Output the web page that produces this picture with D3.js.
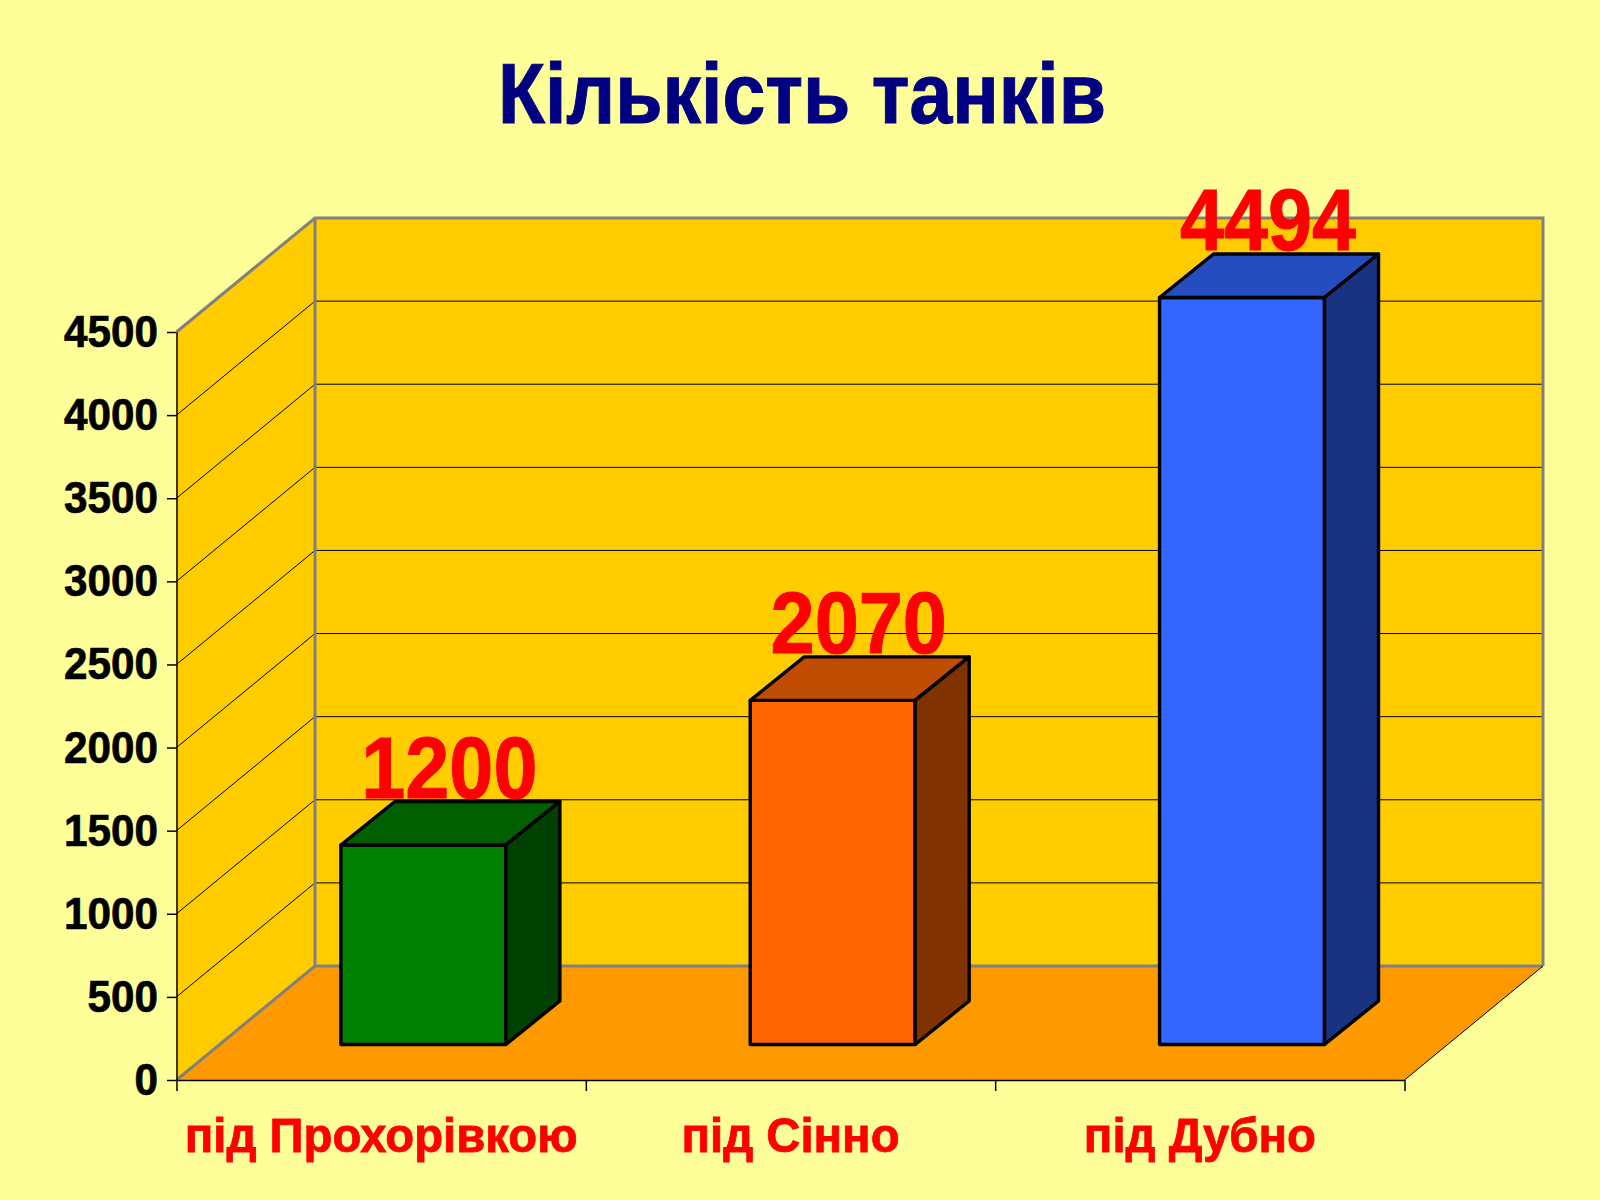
<!DOCTYPE html>
<html>
<head>
<meta charset="utf-8">
<title>Кількість танків</title>
<script src="https://cdn.jsdelivr.net/npm/d3@7/dist/d3.min.js"></script>
<style>
  html, body { margin: 0; padding: 0; background: #FFFF99; }
  svg { display: block; }
  text { font-family: "Liberation Sans", Arial, sans-serif; font-weight: bold; }
</style>
</head>
<body>
<div id="chart"></div>
<script>
const titleText = 'Кількість танків';
const categories = ['під Прохорівкою', 'під Сінно', 'під Дубно'];
const tankCounts = [1200, 2070, 4494];
const yTickValues = [0, 500, 1000, 1500, 2000, 2500, 3000, 3500, 4000, 4500];

const barFills = {
  front: ['#008000', '#FF6600', '#3366FF'],
  top: ['#006000', '#BF4C00', '#264DBF'],
  side: ['#004000', '#803300', '#1A3380']
};

const width = 1600;
const height = 1200;
const plotLeft = 176.5, plotRight = 1404.5, plotBottom = 1080, plotTop = 332;
// oblique offset of the back wall, and of the bars on the floor
const wallDx = 138.5, wallDy = 114;
const barInsetX = 42.2, barInsetY = 35.5;
const barDepthX = 54, barDepthY = 43.5;

const svg = d3.select('#chart').append('svg')
  .attr('width', width)
  .attr('height', height);

svg.append('rect').attr('width', width).attr('height', height).attr('fill', '#FFFF99');

const y = d3.scaleLinear().domain([0, 4500]).range([plotBottom, plotTop]);
const x = d3.scaleBand().domain(categories).range([plotLeft, plotRight])
  .paddingInner(0.597).paddingOuter(0.2985);
const xEdges = d3.scaleLinear().domain([0, categories.length]).range([plotLeft, plotRight]);

const poly = pts => pts.map(p => p.join(',')).join(' ');

// walls and floor
svg.append('polygon')
  .attr('points', poly([[plotLeft, y(0)], [plotLeft + wallDx, y(0) - wallDy], [plotLeft + wallDx, y(4500) - wallDy], [plotLeft, y(4500)]]))
  .attr('fill', '#FFCC00');
svg.append('rect')
  .attr('x', plotLeft + wallDx).attr('y', y(4500) - wallDy)
  .attr('width', plotRight - plotLeft).attr('height', y(0) - y(4500))
  .attr('fill', '#FFCC00');
svg.append('polygon')
  .attr('points', poly([[plotLeft, y(0)], [plotRight, y(0)], [plotRight + wallDx, y(0) - wallDy], [plotLeft + wallDx, y(0) - wallDy]]))
  .attr('fill', '#FF9900');

// gridlines
const grid = svg.append('g').attr('stroke', '#000').attr('fill', 'none');
yTickValues.slice(1, -1).forEach(v => {
  grid.append('polyline')
    .attr('points', poly([[plotLeft, y(v)], [plotLeft + wallDx, y(v) - wallDy], [plotRight + wallDx, y(v) - wallDy]]))
    .attr('stroke-width', 1);
});

// wall borders
const edges = [
  [[plotLeft, y(0)], [plotLeft + wallDx, y(0) - wallDy], [plotRight + wallDx, y(0) - wallDy]],
  [[plotLeft + wallDx, y(0) - wallDy], [plotLeft + wallDx, y(4500) - wallDy]],
  [[plotLeft, y(4500)], [plotLeft + wallDx, y(4500) - wallDy], [plotRight + wallDx, y(4500) - wallDy], [plotRight + wallDx, y(0) - wallDy]]
];
svg.append('g').selectAll('polyline').data(edges).join('polyline')
  .attr('points', d => poly(d))
  .attr('fill', 'none')
  .attr('stroke', '#808080')
  .attr('stroke-width', 3);

svg.append('line')
  .attr('x1', plotRight).attr('y1', y(0))
  .attr('x2', plotRight + wallDx).attr('y2', y(0) - wallDy)
  .attr('stroke', '#000').attr('stroke-width', 1);

// axes
const yAxis = d3.axisLeft(y).tickValues(yTickValues).tickSize(9.5).tickSizeOuter(0).tickFormat('');
const xAxis = d3.axisBottom(xEdges).tickValues(d3.range(categories.length + 1)).tickSize(11).tickSizeOuter(0).tickFormat('');
[svg.append('g').attr('transform', `translate(${plotLeft},0)`).call(yAxis),
 svg.append('g').attr('transform', `translate(0,${plotBottom})`).call(xAxis)]
  .forEach(g => {
    g.select('.domain').attr('stroke', '#000').attr('stroke-width', 1.5);
    g.selectAll('.tick line').attr('stroke', '#000').attr('stroke-width', 1.5);
  });

// squeezed text, the original is a stretched slide
function label(parent, px, py, str, size, sx, fill, anchor, heavy) {
  return parent.append('g')
    .attr('transform', `translate(${px},${py}) scale(${sx},1)`)
    .append('text')
    .attr('text-anchor', anchor)
    .attr('font-size', size)
    .attr('fill', fill)
    .attr('stroke', fill)
    .attr('stroke-width', heavy)
    .text(str);
}

yTickValues.forEach(v => label(svg, 158, y(v) + 15, v, 44, 0.96, '#000', 'end', 0.7));
categories.forEach(c => label(svg, x(c) + x.bandwidth() / 2, 1151.5, c, 49, 0.965, '#F00', 'middle', 0.8));

// bars
const bars = svg.append('g').selectAll('g').data(categories).join('g')
  .attr('stroke', '#000').attr('stroke-width', 3.4).attr('stroke-linejoin', 'round');

bars.each(function(c, i) {
  const g = d3.select(this);
  const x0 = x(c) + barInsetX;
  const x1 = x0 + x.bandwidth();
  const yBase = y(0) - barInsetY;
  const yTop = y(tankCounts[i]) - barInsetY;
  g.append('rect')
    .attr('x', x0).attr('y', yTop)
    .attr('width', x1 - x0).attr('height', yBase - yTop)
    .attr('fill', barFills.front[i]);
  g.append('polygon')
    .attr('points', poly([[x0, yTop], [x0 + barDepthX, yTop - barDepthY], [x1 + barDepthX, yTop - barDepthY], [x1, yTop]]))
    .attr('fill', barFills.top[i]);
  g.append('polygon')
    .attr('points', poly([[x1, yTop], [x1 + barDepthX, yTop - barDepthY], [x1 + barDepthX, yBase - barDepthY], [x1, yBase]]))
    .attr('fill', barFills.side[i]);
});

// data labels
categories.forEach((c, i) => {
  const cx = x(c) + barInsetX + x.bandwidth() / 2 + barDepthX / 2 - 1;
  label(svg, cx, y(tankCounts[i]) - barInsetY - barDepthY - 4, tankCounts[i], 88, 0.9, '#F00', 'middle', 1);
});

label(svg, 802, 123, titleText, 85, 0.906, '#000080', 'middle', 1);
</script>
</body>
</html>
